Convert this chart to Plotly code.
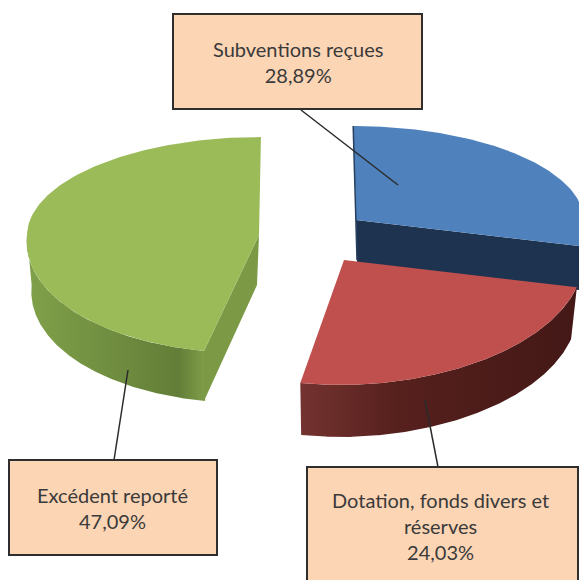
import numpy as np
import plotly.graph_objects as go

# Data
categories = ["Subventions reçues", "Dotation, fonds divers et<br>réserves", "Excédent reporté"]
shares = [28.89, 24.03, 47.09]
share_labels = ["28,89%", "24,03%", "47,09%"]

W, H = 579, 580
bounds = np.cumsum([0] + shares) / sum(shares) * 360.0

# Geometry of each exploded slice (apex, radii, extrusion depth, lean above/below the apex, tilt)
geom = [
    dict(ax=356, ay=220, rx=228, ry_up=94, ry_dn=108, depth=44, lean=0.10, lean_up=0.03, tilt=0.0),
    dict(ax=344, ay=260, rx=240, ry_up=100, ry_dn=125, depth=52, lean=0.0, lean_up=0.0, tilt=-0.013),
    dict(ax=259, ay=235, rx=232, ry_up=98, ry_dn=118, depth=50, lean=-0.11, lean_up=-0.02, tilt=0.0),
]
top_colors = ["#4f81bd", "#c0504d", "#9bbb59"]
wall_colors = [
    [[0, "#1f3552"], [1, "#1f3552"]],
    [[0, "#743330"], [0.35, "#56201d"], [1, "#431816"]],
    [[0, "#80a14a"], [0.85, "#637e38"], [1, "#7f9e48"]],
]
cut_colors = ["#1d3350", "#5a211e", "#7c9a45"]


def arc(g, t0, t1, n=160):
    t = np.radians(np.linspace(t0, t1, n))
    dy = -np.cos(t)
    ry = np.where(dy < 0, g["ry_up"], g["ry_dn"])
    yy = dy * ry
    xx = g["rx"] * np.sin(t) + g["lean"] * np.maximum(yy, 0) + g["lean_up"] * np.minimum(yy, 0)
    yy = yy + g["tilt"] * np.maximum(xx, 0)
    return g["ax"] + xx, g["ay"] + yy


fig = go.Figure()


def poly(x, y, color=None, gradient=None):
    kw = dict(fillcolor=color) if gradient is None else dict(
        fillgradient=dict(type="horizontal", colorscale=gradient))
    fig.add_trace(go.Scatter(x=x, y=y, mode="lines", fill="toself", line=dict(width=0),
                             hoverinfo="skip", showlegend=False, **kw))


for i in [2, 0, 1]:
    g = geom[i]
    t0, t1 = bounds[i], bounds[i + 1]
    # outer wall: the part of the rim facing the viewer
    w0, w1 = max(t0, 90), min(t1, 270)
    if w1 > w0:
        x, y = arc(g, w0, w1)
        bx = np.where(x > g["ax"], g["ax"] + (x - g["ax"]) * 0.975, x + (g["ax"] - x) * 0.02)
        poly(np.r_[x, bx[::-1]], np.r_[y, (y + g["depth"])[::-1]], gradient=wall_colors[i])
    # cut face at the end of the blue slice and at the start of the green slice
    if i in (0, 2):
        edge = t1 if i == 0 else t0
        ex, ey = arc(g, edge, edge, 1)
        poly([g["ax"], ex[0], ex[0], g["ax"] - (2 if i == 2 else -1)],
             [g["ay"], ey[0], ey[0] + g["depth"], g["ay"] + g["depth"]], cut_colors[i])
    # top surface
    x, y = arc(g, t0, t1)
    poly(np.r_[g["ax"], x, g["ax"]], np.r_[g["ay"], y, g["ay"]], top_colors[i])
    if i == 0:
        # thin dark edge along the left of the blue slice
        fx, fy = arc(g, 0, 0, 1)
        fig.add_trace(go.Scatter(x=[fx[0], g["ax"], g["ax"] + 1],
                                 y=[fy[0], g["ay"], g["ay"] + 40],
                                 mode="lines", line=dict(color="#27405f", width=1.5),
                                 hoverinfo="skip", showlegend=False))

# leader lines
leaders = [((301, 110), (398, 185)), ((425, 400), (438, 467)), ((128, 370), (114, 460))]
for (x0, y0), (x1, y1) in leaders:
    fig.add_trace(go.Scatter(x=[x0, x1], y=[y0, y1], mode="lines",
                             line=dict(color="#2b2b2b", width=1.5),
                             hoverinfo="skip", showlegend=False))

# label boxes
boxes = [(173, 14, 422, 109), (307, 467, 578, 590), (9, 460, 217, 555)]
text_pos = [(297.5, 62), (440, 526), (112, 508)]
shapes = [dict(type="rect", x0=a, y0=b, x1=c, y1=d, xref="x", yref="y", layer="above",
               fillcolor="#fcd5b5", line=dict(color="#2e2e2e", width=2)) for a, b, c, d in boxes]
annotations = [dict(x=p[0], y=p[1], xref="x", yref="y", showarrow=False, align="center",
                    text=f"{c}<br>{s}",
                    font=dict(family="Lato, 'Open Sans', sans-serif", size=20, color="#3a3a3a"))
               for p, c, s in zip(text_pos, categories, share_labels)]

fig.update_layout(
    width=W, height=H, margin=dict(l=0, r=0, t=0, b=0),
    paper_bgcolor="white", plot_bgcolor="white", showlegend=False,
    xaxis=dict(range=[0, W], visible=False, fixedrange=True),
    yaxis=dict(range=[H, 0], visible=False, fixedrange=True),
    shapes=shapes, annotations=annotations,
)
fig.write_html("out.html", post_script="document.body.style.margin='0';",
               config=dict(displayModeBar=False))
